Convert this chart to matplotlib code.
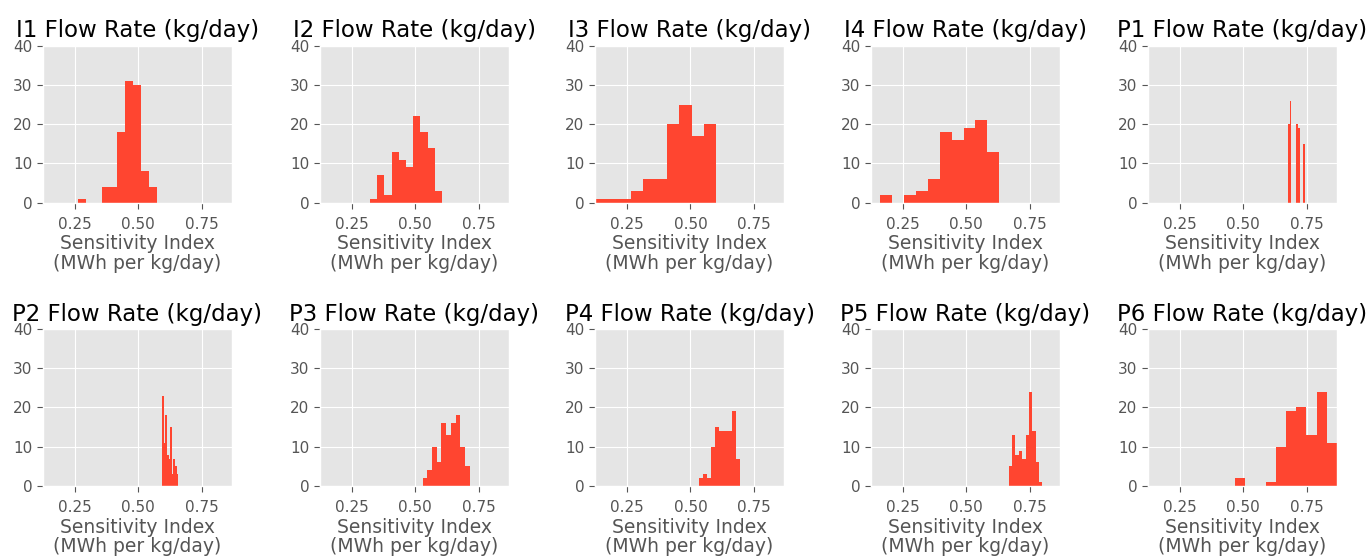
import numpy as np
import matplotlib
matplotlib.use("Agg")
import matplotlib.pyplot as plt

plt.style.use("ggplot")

# Panel names
names = ["I1", "I2", "I3", "I4", "P1", "P2", "P3", "P4", "P5", "P6"]

# Sensitivity index range (min, max) for each panel, 10 equal-width bins in between
i1_range = (0.262, 0.574)
i2_range = (0.321, 0.605)
i3_range = (0.125, 0.599)
i4_range = (0.162, 0.629)
p1_range = (0.676, 0.741)
p2_range = (0.5935, 0.657)
p3_range = (0.529, 0.713)
p4_range = (0.533, 0.695)
p5_range = (0.666, 0.799)
p6_range = (0.467, 0.868)

# Bin counts (100 samples per panel)
i1_counts = [1, 0, 0, 4, 4, 18, 31, 30, 8, 4]
i2_counts = [1, 7, 2, 13, 11, 9, 22, 18, 14, 3]
i3_counts = [1, 1, 1, 3, 6, 6, 20, 25, 17, 20]
i4_counts = [2, 0, 2, 3, 6, 18, 16, 19, 21, 13]
p1_counts = [20, 26, 0, 0, 0, 20, 19, 0, 0, 15]
p2_counts = [23, 11, 18, 8, 7, 15, 3, 7, 5, 3]
p3_counts = [2, 4, 10, 6, 16, 13, 16, 18, 10, 5]
p4_counts = [2, 3, 2, 10, 15, 14, 14, 14, 19, 7]
p5_counts = [5, 13, 8, 9, 7, 13, 24, 14, 6, 1]
p6_counts = [2, 0, 0, 1, 10, 19, 20, 13, 24, 11]

ranges = [i1_range, i2_range, i3_range, i4_range, p1_range,
          p2_range, p3_range, p4_range, p5_range, p6_range]
counts = [i1_counts, i2_counts, i3_counts, i4_counts, p1_counts,
          p2_counts, p3_counts, p4_counts, p5_counts, p6_counts]

x_ticks = [0.25, 0.50, 0.75]
x_tick_labels = ["0.25", "0.50", "0.75"]
y_ticks = [0, 10, 20, 30, 40]

bar_color = "#ff4530"
x_lo = min(r[0] for r in ranges)
x_hi = max(r[1] for r in ranges)

fig = plt.figure(figsize=(13.72, 5.59), dpi=100)
fig.patch.set_facecolor("white")

lefts = [0.0313, 0.2332, 0.4337, 0.6348, 0.8367]
bottoms = [0.6374, 0.1306]
w, h = 0.1378, 0.2809

for k, (name, rng, cnt) in enumerate(zip(names, ranges, counts)):
    row, col = divmod(k, 5)
    ax = fig.add_axes([lefts[col], bottoms[row], w, h])
    edges = np.linspace(rng[0], rng[1], len(cnt) + 1)
    ax.hist(edges[:-1], bins=edges, weights=cnt, color=bar_color)
    ax.set_xlim(x_lo, x_hi)
    ax.set_ylim(0, 40)
    ax.set_xticks(x_ticks)
    ax.set_xticklabels(x_tick_labels)
    ax.set_yticks(y_ticks)
    ax.tick_params(labelsize=11, colors="#555555", length=4)
    ax.tick_params(axis="x", pad=6)
    ax.set_title(f"{name} Flow Rate (kg/day)", fontsize=16.5, color="black", pad=6)
    ax.set_xlabel("Sensitivity Index\n(MWh per kg/day)", fontsize=13.5,
                  color="#555555", labelpad=2, linespacing=1.05)

fig.savefig("out.png", dpi=100)
